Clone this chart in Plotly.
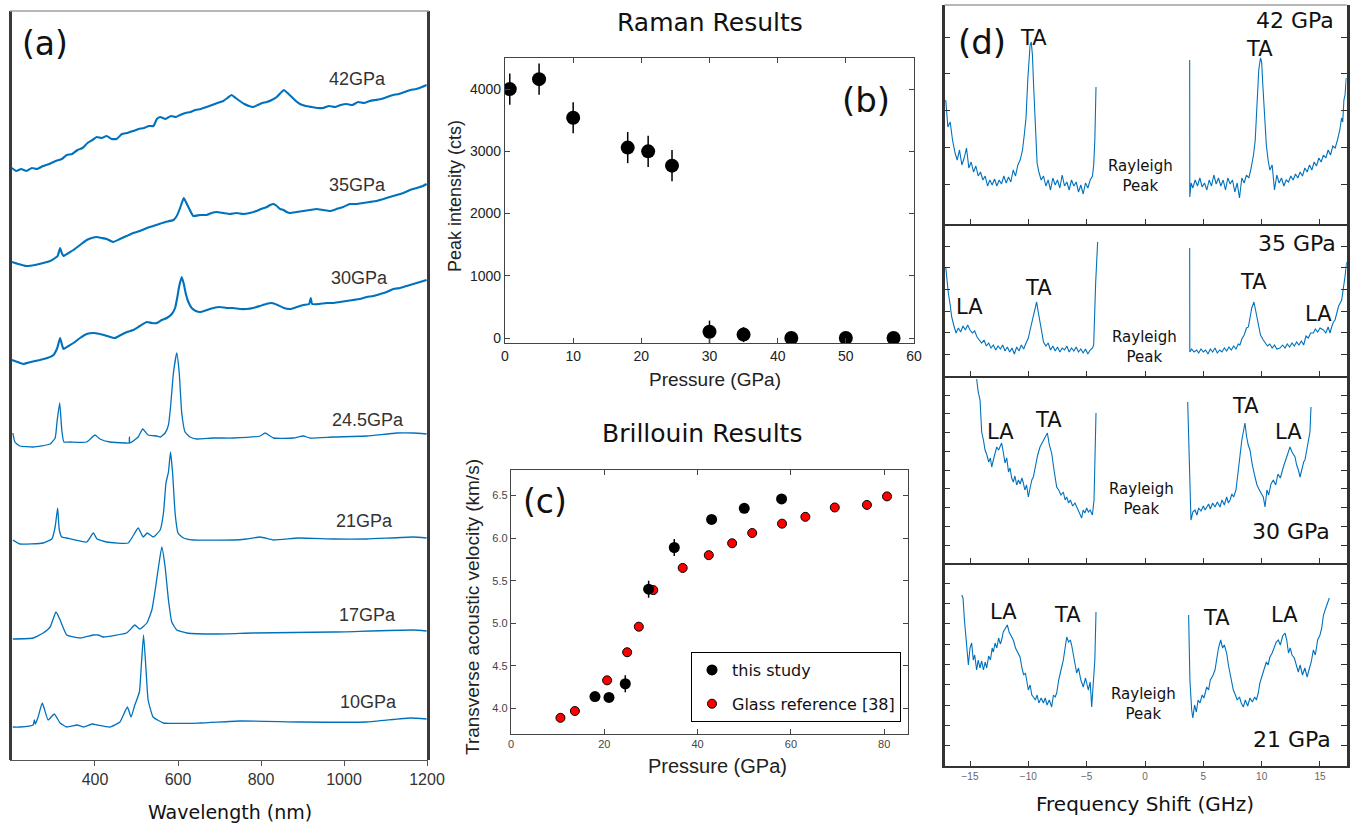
import plotly.graph_objects as go

# ---------------- (a) stacked Raman spectra (offset intensity, a.u.) ----------------
wl_42 = [200, 210, 222, 235, 248, 260, 275, 290, 305, 320, 332, 345, 358, 370, 382, 394, 404, 416, 428, 440,
         452, 465, 478, 492, 505, 518, 530, 541, 549, 557, 570, 583, 595, 605, 618, 630, 642, 655, 669, 682,
         695, 709, 719, 729, 739, 749, 760, 771, 781, 792, 803, 814, 826, 838, 847, 855, 864, 874, 884, 894,
         908, 922, 936, 950, 964, 978, 992, 1006, 1020, 1034, 1048, 1062, 1076, 1090, 1104, 1118, 1132, 1146,
         1160, 1174, 1188, 1199]
int_42 = [592, 589, 591, 589, 592, 591, 594, 596, 599, 601, 605, 606, 610, 612, 617, 620, 623, 622, 624, 621,
          621, 626, 627, 629, 631, 632, 634, 634, 641, 643, 641, 644, 643, 645, 647, 648, 650, 651, 653, 655,
          657, 659, 662, 665, 662, 659, 656, 654, 653, 655, 657, 658, 660, 663, 667, 670, 667, 663, 659, 656,
          654, 653, 652, 652, 654, 653, 655, 656, 655, 658, 657, 659, 660, 661, 663, 665, 666, 668,
          670, 671, 673, 675]

wl_35 = [200, 215, 235, 255, 275, 292, 304, 310, 316, 320, 324, 336, 348, 364, 380, 392, 404, 416, 428, 444,
         460, 476, 492, 508, 525, 540, 555, 570, 589, 597, 605, 610, 614, 619, 625, 631, 637, 653, 669, 681,
         693, 709, 725, 741, 757, 773, 789, 800, 814, 822, 830, 838, 846, 854, 862, 870, 886, 902, 918, 934,
         950, 966, 982, 998, 1014, 1030, 1046, 1062, 1078, 1095, 1110, 1127, 1143, 1159, 1175, 1190, 1199]
int_35 = [498, 496, 494, 495, 497, 499, 502, 504, 512, 507, 504, 507, 510, 515, 520, 522, 523, 522, 521, 518,
          521, 524, 527, 529, 532, 534, 536, 538, 540, 544, 552, 558, 562, 558, 553, 548, 544, 545, 545, 547,
          548, 547, 546, 547, 546, 547, 549, 551, 553, 555, 556, 554, 551, 550, 548, 547, 548, 549, 550, 551,
          550, 549, 551, 553, 556, 556, 557, 558, 559, 561, 563, 565, 567, 570, 572, 574, 576]

wl_30 = [200, 213, 227, 245, 267, 285, 300, 309, 313, 316, 320, 324, 336, 348, 364, 380, 396, 412, 430, 448,
         462, 477, 492, 508, 525, 537, 549, 561, 573, 585, 593, 598, 603, 609, 614, 619, 625, 633, 643, 653,
         669, 685, 701, 717, 733, 749, 765, 781, 797, 812, 826, 840, 855, 870, 886, 902, 916, 920, 923, 940,
         958, 974, 990, 1006, 1022, 1038, 1055, 1070, 1087, 1103, 1119, 1135, 1151, 1167, 1183, 1199]
int_30 = [400, 398, 396, 398, 400, 402, 405, 412, 418, 422, 416, 411, 414, 417, 422, 426, 427, 426, 424, 422,
          425, 428, 430, 434, 438, 437, 437, 440, 442, 446, 452, 462, 474, 483, 476, 466, 458, 452, 449, 448,
          450, 452, 453, 452, 452, 451, 451, 452, 454, 456, 457, 455, 452, 451, 453, 455, 456, 462, 456, 456,
          457, 457, 458, 459, 460, 461, 463, 464, 466, 468, 471, 472, 474, 476, 478, 480]

wl_245 = [202, 207, 219, 251, 292, 304, 309, 315, 320, 325, 340, 380, 400, 412, 436, 476, 482, 483, 484, 504,
          515, 528, 549, 557, 569, 577, 582, 589, 597, 603, 609, 617, 629, 645, 685, 733, 798, 810, 830, 878,
          902, 918, 974, 1055, 1127, 1167, 1199]
int_245 = [327, 318, 314, 313, 316, 322, 340, 357, 330, 318, 318, 318, 325, 321, 318, 317, 317, 323, 317, 323,
           331, 325, 324, 323, 327, 335, 353, 387, 407, 387, 347, 328, 323, 321, 322, 322, 324, 327, 322, 322,
           324, 322, 323, 324, 327, 327, 326]

wl_21 = [202, 219, 275, 296, 304, 310, 314, 320, 332, 380, 396, 405, 428, 480, 504, 516, 526, 541, 557, 565,
         571, 577, 582, 587, 593, 600, 613, 637, 733, 765, 798, 830, 890, 974, 1055, 1167, 1199]
int_21 = [220, 216, 217, 221, 233, 252, 230, 223, 222, 218, 227, 221, 218, 217, 232, 223, 227, 223, 230, 247,
          277, 288, 308, 287, 247, 227, 222, 220, 220, 221, 223, 220, 222, 221, 221, 223, 222]

wl_17 = [202, 251, 275, 292, 306, 316, 332, 364, 396, 408, 420, 476, 484, 496, 508, 525, 537, 545, 553, 561,
         569, 577, 585, 597, 621, 693, 781, 974, 1167, 1199]
int_17 = [121, 122, 127, 133, 148, 140, 125, 122, 125, 125, 123, 127, 130, 135, 131, 137, 150, 170, 193, 213,
          193, 160, 138, 130, 127, 126, 127, 128, 130, 129]

wl_10 = [202, 219, 251, 254, 256, 263, 273, 287, 302, 316, 332, 357, 372, 394, 405, 436, 460, 478, 487, 496,
         507, 512, 517, 523, 528, 540, 565, 653, 749, 894, 1055, 1159, 1199]
int_10 = [33, 33, 35, 40, 36, 43, 57, 40, 46, 37, 33, 35, 33, 36, 35, 33, 38, 53, 43, 55,
          68, 97, 125, 90, 60, 43, 37, 37, 39, 38, 38, 42, 41]

spectrum_labels = ["42GPa", "35GPa", "30GPa", "24.5GPa", "21GPa", "17GPa", "10GPa"]

# ---------------- (b) Raman peak intensity ----------------
raman_pressure = [0.7, 5, 10, 18, 21, 24.5, 30, 35, 42, 50, 57]
raman_intensity = [4000, 4160, 3540, 3060, 3000, 2770, 100, 55, 0, 0, 0]
raman_error = [250, 250, 250, 250, 250, 250, 180, 120, 0, 0, 0]

# ---------------- (c) transverse acoustic velocity ----------------
study_pressure = [18, 21, 24.5, 29.5, 35, 43, 50, 58]
study_velocity = [4.14, 4.13, 4.29, 5.40, 5.89, 6.22, 6.35, 6.46]
study_error = [0, 0, 0.1, 0.1, 0.1, 0, 0, 0]
glass_pressure = [10.6, 13.7, 20.6, 24.9, 27.4, 30.5, 36.8, 42.4, 47.4, 51.7, 58.1, 63.1, 69.4, 76.3, 80.6]
glass_velocity = [3.89, 3.97, 4.33, 4.66, 4.96, 5.39, 5.65, 5.80, 5.94, 6.06, 6.17, 6.25, 6.36, 6.39, 6.49]

# ---------------- (d) Brillouin spectra (counts, a.u.) ----------------
shift_42_left = [-17.08, -16.9, -16.7, -16.5, -16.28, -16.1, -15.9, -15.7, -15.5, -15.3, -15.1, -14.9, -14.7,
                 -14.5, -14.3, -14.1, -13.9, -13.7, -13.5, -13.3, -13.1, -12.9, -12.7, -12.5, -12.3, -12.1,
                 -11.9, -11.7, -11.5, -11.3, -11.1, -10.9, -10.7, -10.5, -10.35, -10.2, -10.05, -9.95, -9.85,
                 -9.75, -9.65, -9.55, -9.45, -9.35, -9.25, -9.1, -8.9, -8.7, -8.5, -8.3, -8.1, -7.9, -7.7,
                 -7.5, -7.3, -7.1, -6.9, -6.7, -6.5, -6.3, -6.1, -5.9, -5.7, -5.5, -5.3, -5.1, -4.9, -4.7,
                 -4.5, -4.4, -4.3, -4.2]
counts_42_left = [124, 97, 102, 84, 71, 64, 74, 59, 66, 76, 56, 62, 52, 58, 48, 52, 44, 48, 38, 44, 39, 45, 38,
                  44, 40, 48, 41, 47, 42, 54, 48, 59, 64, 74, 89, 106, 144, 169, 179, 182, 169, 139, 109, 84,
                  61, 52, 44, 48, 38, 44, 34, 46, 39, 44, 36, 49, 38, 42, 34, 44, 38, 42, 32, 39, 30, 41, 36,
                  44, 48, 59, 84, 137]
shift_42_right = [3.83, 3.84, 3.95, 4.1, 4.3, 4.5, 4.7, 4.9, 5.1, 5.3, 5.5, 5.7, 5.9, 6.1, 6.3, 6.5, 6.7, 6.9,
                  7.1, 7.3, 7.5, 7.7, 7.9, 8.1, 8.3, 8.5, 8.7, 8.9, 9.1, 9.3, 9.45, 9.6, 9.75, 9.9, 10.0, 10.1,
                  10.25, 10.4, 10.55, 10.7, 10.9, 11.1, 11.3, 11.5, 11.7, 11.9, 12.1, 12.3, 12.5, 12.7, 12.9,
                  13.1, 13.3, 13.5, 13.7, 13.9, 14.1, 14.3, 14.5, 14.7, 14.9, 15.1, 15.3, 15.5, 15.7, 15.9,
                  16.1, 16.3, 16.5, 16.7, 16.85, 16.95, 17.05, 17.15, 17.25]
counts_42_right = [164, 27, 41, 36, 44, 38, 46, 37, 41, 34, 44, 38, 49, 40, 46, 38, 44, 34, 46, 40, 44, 32, 41,
                   26, 46, 41, 49, 46, 56, 69, 84, 124, 154, 166, 162, 139, 104, 79, 64, 54, 59, 34, 49, 41,
                   46, 38, 44, 42, 48, 44, 50, 46, 52, 48, 56, 52, 59, 54, 62, 58, 66, 62, 69, 66, 74, 69, 78,
                   76, 84, 94, 106, 102, 124, 129, 146]

shift_35_left = [-17.08, -16.95, -16.86, -16.7, -16.57, -16.4, -16.2, -16.0, -15.8, -15.6, -15.4, -15.2, -15.0,
                 -14.8, -14.6, -14.4, -14.2, -14.0, -13.8, -13.6, -13.4, -13.2, -13.0, -12.8, -12.6, -12.4,
                 -12.2, -12.0, -11.8, -11.6, -11.4, -11.2, -11.0, -10.8, -10.6, -10.4, -10.2, -10.0, -9.85,
                 -9.7, -9.55, -9.4, -9.29, -9.15, -9.0, -8.85, -8.7, -8.5, -8.3, -8.1, -7.9, -7.7, -7.5,
                 -7.3, -7.1, -6.9, -6.7, -6.5, -6.3, -6.1, -5.9, -5.7, -5.5, -5.3, -5.1, -4.9, -4.7, -4.5,
                 -4.4, -4.23, -4.06]
counts_35_left = [109, 91, 83, 71, 59, 51, 43, 48, 44, 50, 46, 51, 46, 43, 45, 39, 36, 33, 36, 30, 33, 28, 31,
                  26, 30, 27, 31, 25, 29, 24, 28, 22, 29, 25, 31, 27, 33, 38, 46, 54, 62, 71, 74, 64, 54, 43,
                  34, 30, 33, 26, 30, 25, 29, 24, 28, 26, 30, 24, 28, 25, 29, 24, 27, 23, 27, 22, 26, 28, 31,
                  93, 134]
shift_35_right = [3.83, 3.84, 4.0, 4.2, 4.43, 4.6, 4.8, 5.0, 5.2, 5.4, 5.6, 5.8, 6.0, 6.2, 6.4, 6.6, 6.8, 7.0,
                  7.2, 7.4, 7.6, 7.8, 8.0, 8.14, 8.3, 8.5, 8.7, 8.86, 9.0, 9.15, 9.34, 9.5, 9.71, 9.9, 10.14,
                  10.3, 10.5, 10.7, 10.9, 11.1, 11.3, 11.57, 11.8, 12.0, 12.2, 12.4, 12.6, 12.8, 13.0, 13.2,
                  13.4, 13.6, 13.8, 14.0, 14.2, 14.43, 14.6, 14.8, 15.0, 15.29, 15.5, 15.7, 15.86, 16.0,
                  16.15, 16.29, 16.45, 16.6, 16.86, 17.0, 17.14, 17.29]
counts_35_right = [128, 24, 27, 24, 26, 23, 27, 24, 26, 22, 27, 24, 28, 23, 26, 24, 28, 25, 29, 26, 30, 27, 32,
                   31, 37, 41, 48, 49, 58, 68, 74, 64, 51, 41, 36, 33, 30, 32, 28, 31, 27, 28, 31, 28, 32, 29,
                   33, 30, 34, 31, 35, 31, 40, 38, 43, 43, 47, 44, 48, 46, 43, 49, 43, 49, 54, 56, 64, 70, 76,
                   86, 99, 114]

shift_30_left = [-14.43, -14.3, -14.14, -14.0, -13.85, -13.71, -13.55, -13.4, -13.25, -13.14, -13.0, -12.85,
                 -12.71, -12.55, -12.4, -12.29, -12.15, -12.0, -11.85, -11.7, -11.57, -11.43, -11.29, -11.15,
                 -11.0, -10.85, -10.7, -10.55, -10.43, -10.3, -10.15, -10.0, -9.85, -9.7, -9.57, -9.4, -9.2,
                 -9.0, -8.8, -8.6, -8.37, -8.2, -8.0, -7.8, -7.57, -7.4, -7.2, -7.0, -6.85, -6.71, -6.55,
                 -6.4, -6.2, -6.0, -5.86, -5.7, -5.55, -5.43, -5.3, -5.15, -5.0, -4.85, -4.7, -4.51, -4.37,
                 -4.2]
counts_30_left = [184, 171, 163, 131, 123, 113, 108, 101, 105, 96, 103, 111, 116, 113, 118, 120, 111, 100, 105,
                  91, 95, 85, 81, 87, 78, 83, 79, 85, 80, 73, 78, 66, 75, 83, 86, 98, 108, 116, 121, 126, 130,
                  118, 110, 93, 76, 73, 68, 71, 63, 66, 60, 63, 57, 60, 56, 53, 49, 45, 53, 50, 55, 51, 53, 48,
                  63, 150]
shift_30_right = [3.66, 3.8, 3.94, 4.1, 4.29, 4.45, 4.6, 4.8, 5.0, 5.15, 5.29, 5.45, 5.6, 5.8, 6.0, 6.2, 6.43,
                  6.6, 6.8, 7.0, 7.15, 7.29, 7.45, 7.6, 7.8, 8.0, 8.15, 8.3, 8.45, 8.57, 8.7, 8.85, 9.0, 9.2,
                  9.43, 9.6, 9.8, 10.0, 10.14, 10.29, 10.45, 10.6, 10.8, 11.0, 11.2, 11.4, 11.6, 11.86, 12.0,
                  12.2, 12.43, 12.6, 12.86, 13.0, 13.15, 13.29, 13.45, 13.6, 13.71, 13.85, 14.0, 14.14, 14.23]
counts_30_right = [161, 93, 43, 51, 53, 48, 55, 52, 57, 53, 56, 59, 54, 60, 56, 61, 56, 63, 58, 66, 60, 63, 69,
                   66, 73, 90, 108, 123, 133, 140, 127, 118, 113, 98, 86, 78, 73, 68, 66, 56, 73, 68, 79, 83,
                   78, 89, 85, 96, 101, 108, 116, 111, 106, 98, 93, 86, 95, 101, 103, 113, 120, 131, 156]

shift_21_left = [-15.71, -15.6, -15.48, -15.35, -15.25, -15.14, -15.0, -14.86, -14.72, -14.6, -14.43, -14.3,
                 -14.15, -14.0, -13.85, -13.7, -13.57, -13.4, -13.25, -13.1, -13.0, -12.85, -12.7, -12.55,
                 -12.4, -12.29, -12.15, -11.95, -11.8, -11.65, -11.5, -11.29, -11.1, -10.9, -10.71, -10.55,
                 -10.4, -10.25, -10.14, -10.0, -9.85, -9.7, -9.57, -9.4, -9.25, -9.1, -8.9, -8.71, -8.55,
                 -8.4, -8.2, -8.0, -7.85, -7.7, -7.57, -7.4, -7.14, -7.0, -6.85, -6.71, -6.55, -6.4, -6.29,
                 -6.15, -6.0, -5.86, -5.7, -5.5, -5.29, -5.1, -4.86, -4.7, -4.57, -4.43, -4.3, -4.2]
counts_21_left = [171, 168, 146, 126, 111, 101, 118, 123, 106, 111, 96, 106, 98, 105, 96, 104, 98, 110, 106,
                  118, 114, 123, 118, 128, 122, 126, 134, 138, 141, 134, 131, 126, 118, 114, 109, 98, 91, 93,
                  86, 76, 81, 71, 69, 66, 71, 63, 68, 63, 68, 61, 66, 59, 71, 69, 73, 86, 99, 106, 118, 129,
                  124, 126, 121, 111, 101, 93, 98, 86, 79, 88, 76, 84, 59, 86, 106, 154]
shift_21_right = [3.74, 3.85, 4.0, 4.1, 4.25, 4.4, 4.55, 4.71, 4.9, 5.05, 5.29, 5.45, 5.6, 5.8, 6.0, 6.15, 6.3,
                  6.49, 6.65, 6.8, 7.0, 7.15, 7.35, 7.57, 7.75, 7.9, 8.1, 8.25, 8.43, 8.6, 8.8, 9.0, 9.2, 9.4,
                  9.55, 9.71, 9.85, 10.0, 10.2, 10.4, 10.55, 10.71, 10.9, 11.1, 11.25, 11.43, 11.6, 11.8, 12.0,
                  12.15, 12.3, 12.45, 12.6, 12.8, 13.0, 13.14, 13.3, 13.5, 13.7, 13.9, 14.1, 14.25, 14.43,
                  14.6, 14.8, 15.0, 15.15, 15.3, 15.5, 15.65, 15.8]
counts_21_right = [151, 86, 56, 48, 61, 54, 66, 63, 71, 68, 79, 76, 86, 90, 96, 106, 118, 126, 118, 121, 113,
                   101, 88, 76, 71, 66, 69, 63, 59, 66, 60, 68, 64, 69, 66, 73, 83, 89, 96, 104, 101, 109, 113,
                   119, 124, 126, 121, 130, 133, 126, 113, 118, 111, 108, 98, 94, 101, 91, 98, 89, 98, 104,
                   116, 111, 126, 131, 138, 151, 158, 163, 168]

# ---------------- page geometry helpers ----------------
W, H = 1352, 823


def fx(p):
    return p / W


def fy(p):
    return 1 - p / H


SANS = "DejaVu Sans"
ARIAL = "Liberation Sans"
BLUE = "#0072BD"
FRAME = "#333333"

fig = go.Figure()

# (a) spectra
spectra = [(wl_42, int_42, 2.1), (wl_35, int_35, 2.1), (wl_30, int_30, 2.1),
           (wl_245, int_245, 1.3), (wl_21, int_21, 1.3), (wl_17, int_17, 1.3), (wl_10, int_10, 1.3)]
for (wx, wy, lw), lab in zip(spectra, spectrum_labels):
    fig.add_trace(go.Scatter(x=wx, y=wy, mode="lines", name=lab, showlegend=False,
                             line=dict(color=BLUE, width=lw, shape="spline", smoothing=0.4),
                             xaxis="x", yaxis="y"))

# (b) peak intensity vs pressure
fig.add_trace(go.Scatter(x=raman_pressure, y=raman_intensity, mode="markers", showlegend=False,
                         marker=dict(color="black", size=14),
                         error_y=dict(type="data", array=raman_error, color="black", thickness=1.5, width=0),
                         xaxis="x2", yaxis="y2"))

# (c) velocities
fig.add_trace(go.Scatter(x=glass_pressure, y=glass_velocity, mode="markers", name="Glass reference [38]",
                         legendgroup="glass", legendrank=2,
                         marker=dict(color="#ff0000", size=9, line=dict(color="black", width=1)),
                         xaxis="x3", yaxis="y3"))
fig.add_trace(go.Scatter(x=study_pressure, y=study_velocity, mode="markers", name="this study",
                         legendgroup="study", legendrank=1,
                         marker=dict(color="black", size=11),
                         error_y=dict(type="data", array=study_error, color="black", thickness=1.5, width=0),
                         xaxis="x3", yaxis="y3"))

# (d) Brillouin spectra, anti-Stokes and Stokes branches
brillouin = [(shift_42_left, counts_42_left, shift_42_right, counts_42_right),
             (shift_35_left, counts_35_left, shift_35_right, counts_35_right),
             (shift_30_left, counts_30_left, shift_30_right, counts_30_right),
             (shift_21_left, counts_21_left, shift_21_right, counts_21_right)]
for i, (xl, yl, xr, yr) in enumerate(brillouin):
    n = i + 4
    fig.add_trace(go.Scatter(x=list(xl) + [None] + list(xr), y=list(yl) + [None] + list(yr),
                             mode="lines", showlegend=False, connectgaps=False,
                             line=dict(color=BLUE, width=1.1),
                             xaxis=f"x{n}", yaxis=f"y{n}"))

layout = dict(
    width=W, height=H, margin=dict(l=0, r=0, t=0, b=0, pad=0, autoexpand=False),
    paper_bgcolor="white", plot_bgcolor="white",
    font=dict(family=ARIAL, color="#222"),
)

# (a) axes
layout["xaxis"] = dict(domain=[fx(10), fx(428)], range=[195.2, 1202.4], anchor="y", automargin=False,
                       showline=True, linecolor="#555", linewidth=1, ticks="outside", ticklen=5,
                       tickcolor="#555", tickvals=[400, 600, 800, 1000, 1200],
                       tickfont=dict(family=ARIAL, size=16, color="#333"),
                       showgrid=False, zeroline=False)
layout["yaxis"] = dict(domain=[fy(760), fy(11)], range=[0, 749], anchor="x", visible=False, automargin=False)

# (b) axes
common_box = dict(showline=True, linecolor="#444", linewidth=1.3, mirror="ticks", ticks="inside",
                  ticklen=5, tickcolor="#444", showgrid=False, zeroline=False, automargin=False)
layout["xaxis2"] = dict(domain=[fx(505), fx(914)], range=[0, 60], anchor="y2",
                        tickvals=[0, 10, 20, 30, 40, 50, 60],
                        tickfont=dict(family=ARIAL, size=14, color="#222"), **common_box)
layout["yaxis2"] = dict(domain=[fy(343), fy(58)], range=[-80, 4500], anchor="x2",
                        tickvals=[0, 1000, 2000, 3000, 4000],
                        tickfont=dict(family=ARIAL, size=14, color="#222"), **common_box)

# (c) axes
layout["xaxis3"] = dict(domain=[fx(511), fx(908)], range=[0, 85.1], anchor="y3",
                        tickvals=[0, 20, 40, 60, 80],
                        tickfont=dict(family=ARIAL, size=11, color="#444"), **common_box)
layout["yaxis3"] = dict(domain=[fy(734), fy(470)], range=[3.70, 6.80], anchor="x3",
                        tickvals=[4.0, 4.5, 5.0, 5.5, 6.0, 6.5], tickformat=".1f",
                        tickfont=dict(family=ARIAL, size=11, color="#444"), **common_box)

# (d) stacked sub-panels: (top, bottom) in page pixels, tick start and spacing
panels = [(5, 224, 40.0, 36.67, 5), (224, 376, 21.7, 21.6, 6),
          (376, 563, 18.0, 18.75, 9), (563, 766, 20.3, 20.3, 9)]
for i, (top, bot, t0, dt, nt) in enumerate(panels):
    n = i + 4
    last = (i == len(panels) - 1)
    layout[f"xaxis{n}"] = dict(domain=[fx(944.7), fx(1346.7)], range=[-17.17, 17.29], anchor=f"y{n}",
                               showline=True, linecolor=FRAME, linewidth=2, ticks="inside", ticklen=5,
                               tickcolor=FRAME, tickvals=[-15, -10, -5, 0, 5, 10, 15],
                               showticklabels=last, automargin=False,
                               tickfont=dict(family=ARIAL, size=10, color="#666"),
                               showgrid=False, zeroline=False)
    layout[f"yaxis{n}"] = dict(domain=[fy(bot), fy(top)], range=[0, bot - top], anchor=f"x{n}",
                               showline=True, linecolor=FRAME, linewidth=2.5, mirror="ticks",
                               ticks="inside", ticklen=6, tickcolor=FRAME, automargin=False,
                               tickvals=[t0 + dt * k for k in range(nt)], showticklabels=False,
                               showgrid=False, zeroline=False)

layout["legend"] = dict(x=fx(901), xanchor="right", y=fy(652), yanchor="top",
                        bordercolor="black", borderwidth=1, bgcolor="white",
                        font=dict(family=SANS, size=16, color="#111"),
                        traceorder="grouped", tracegroupgap=10)

# frame lines drawn on the page
shapes = [
    dict(type="line", xref="paper", yref="paper", x0=fx(10.5), x1=fx(10.5), y0=fy(760), y1=fy(11),
         line=dict(color="#3a3a3a", width=3)),
    dict(type="line", xref="paper", yref="paper", x0=fx(428.5), x1=fx(428.5), y0=fy(760), y1=fy(11),
         line=dict(color="#3a3a3a", width=3)),
    dict(type="line", xref="paper", yref="paper", x0=fx(10), x1=fx(429), y0=fy(11), y1=fy(11),
         line=dict(color="#a0a0a0", width=1.5)),
    dict(type="line", xref="paper", yref="paper", x0=fx(944.7), x1=fx(1346.7), y0=fy(5), y1=fy(5),
         line=dict(color="#a0a0a0", width=1.5)),
]
layout["shapes"] = shapes


def label(text, x, y, size, family=SANS, color="#111", angle=0):
    return dict(text=text, x=fx(x), y=fy(y), xref="paper", yref="paper", showarrow=False,
                xanchor="center", yanchor="middle", textangle=angle,
                font=dict(family=family, size=size, color=color))


ann = [
    label("(a)", 45, 43, 33),
    label("Wavelength (nm)", 230, 812, 19),
    label("Raman Results", 710, 22, 25),
    label("(b)", 866, 100, 34),
    label("Peak intensity (cts)", 455, 196, 18, ARIAL, "#222", -90),
    label("Pressure (GPa)", 715, 380, 19, ARIAL, "#222"),
    label("Brillouin Results", 702, 433, 25),
    label("(c)", 545, 501, 33),
    label("Transverse acoustic velocity (km/s)", 472, 607, 19, ARIAL, "#222", -90),
    label("Pressure (GPa)", 717, 766, 20, ARIAL, "#222"),
    label("(d)", 982, 42, 34),
    label("Frequency Shift (GHz)", 1145, 804, 20),
]
spec_label_pos = [(357, 79), (357, 185), (359, 278), (368, 420), (364, 521), (367, 615), (369, 702)]
for lab, (x, y) in zip(spectrum_labels, spec_label_pos):
    ann.append(label(lab, x, y, 18, ARIAL, "#333"))

# pressure tags and mode labels in (d)
for txt, x, y in [("42 GPa", 1295, 21), ("35 GPa", 1297, 243), ("30 GPa", 1291, 531), ("21 GPa", 1292, 739)]:
    ann.append(label(txt, x, y, 22))
for txt, x, y in [("TA", 1033, 38), ("TA", 1259, 49),
                  ("LA", 970, 307), ("TA", 1038, 288), ("TA", 1253, 282), ("LA", 1318, 314),
                  ("LA", 1000, 432), ("TA", 1048, 420), ("TA", 1245, 406), ("LA", 1288, 432),
                  ("LA", 1003, 612), ("TA", 1067, 615), ("TA", 1216, 618), ("LA", 1284, 615)]:
    ann.append(label(txt, x, y, 21))
for x, y in [(1140, 176), (1144, 347), (1141, 499), (1143, 704)]:
    ann.append(label("Rayleigh<br>Peak", x, y, 15))

layout["annotations"] = ann
fig.update_layout(**layout)

fig.write_html("out.html")
